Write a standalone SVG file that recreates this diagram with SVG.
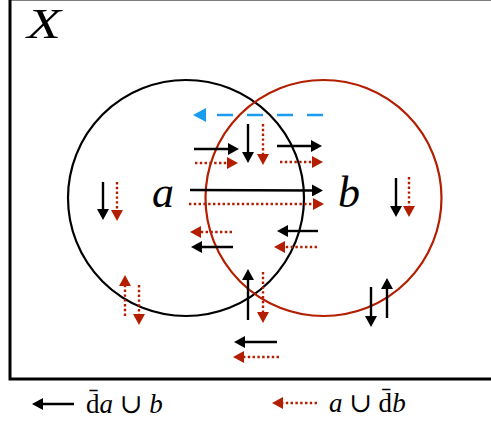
<svg xmlns="http://www.w3.org/2000/svg" width="491" height="422" viewBox="0 0 491 422">
<style>
.frame{fill:none;stroke:#000;stroke-width:3}
.ca{fill:none;stroke:#000;stroke-width:2.2}
.cb{fill:none;stroke:#b41e00;stroke-width:2.2}
.k{fill:none;stroke:#000;stroke-width:2.4;marker-end:url(#hk)}
.r{fill:none;stroke:#b41e00;stroke-width:2.4;stroke-dasharray:2.4 2.4;marker-end:url(#hr)}
.bl{fill:none;stroke:#1a9cf0;stroke-width:2.4;stroke-dasharray:16 14;marker-end:url(#hb)}
.lbl{font-family:"Liberation Serif","DejaVu Serif",serif;font-style:italic;fill:#000}
.leg{font-family:"Liberation Serif","DejaVu Serif",serif;font-size:27px;fill:#000}
</style>
<defs>
<marker id="hk" markerUnits="userSpaceOnUse" markerWidth="12" markerHeight="12" refX="2" refY="6" orient="auto"><path d="M0,0 L11,6 L0,12 z" fill="#000"/></marker>
<marker id="hr" markerUnits="userSpaceOnUse" markerWidth="12" markerHeight="12" refX="2" refY="6" orient="auto"><path d="M0,0 L11,6 L0,12 z" fill="#b41e00"/></marker>
<marker id="hb" markerUnits="userSpaceOnUse" markerWidth="14" markerHeight="14" refX="2" refY="7" orient="auto"><path d="M0,0 L13,7 L0,14 z" fill="#1a9cf0"/></marker>
</defs>
<rect class="frame" x="10" y="-1" width="492" height="380"/>
<text class="lbl" x="27" y="38" font-size="42" textLength="34" lengthAdjust="spacingAndGlyphs">X</text>
<g id="setA"><circle class="ca" cx="186" cy="198" r="118"/><text class="lbl" x="152" y="207" font-size="44">a</text></g>
<g id="setB"><circle class="cb" cx="323.5" cy="198" r="118"/><text class="lbl" x="338" y="207" font-size="44">b</text></g>
<g id="connectors">
<path class="bl" d="M323,115 H204"/>
<path class="k" d="M194,149 H230"/>
<path class="k" d="M248,124 V154"/>
<path class="k" d="M277,146 H313"/>
<path class="k" d="M190,190 L314,190.5"/>
<path class="k" d="M103,182 V211"/>
<path class="k" d="M396,178 V208"/>
<path class="k" d="M318,231 H286"/>
<path class="k" d="M233,247 H200"/>
<path class="k" d="M248,320 V278"/>
<path class="k" d="M277,342 H243"/>
<path class="k" d="M371,287 V318"/>
<path class="k" d="M387,318 V287"/>
<path class="r" d="M195,163 H229"/>
<path class="r" d="M263,124 V156"/>
<path class="r" d="M280,162 H314"/>
<path class="r" d="M189,204 H315"/>
<path class="r" d="M117,182 V212"/>
<path class="r" d="M409,177 V208"/>
<path class="r" d="M232,232 H199"/>
<path class="r" d="M317,247 H283"/>
<path class="r" d="M125,316 V284"/>
<path class="r" d="M139,285 V316"/>
<path class="r" d="M263,272 V314"/>
<path class="r" d="M279,357 H242"/>
</g>
<g id="legend">
<path class="k" d="M74,404 H41"/>
<text class="leg" x="86" y="413">d̄<tspan font-style="italic">a</tspan> ∪ <tspan font-style="italic">b</tspan></text>
<path class="r" d="M317,403 H281"/>
<text class="leg" x="329" y="412"><tspan font-style="italic">a</tspan> ∪ d̄<tspan font-style="italic">b</tspan></text>
</g>
</svg>
